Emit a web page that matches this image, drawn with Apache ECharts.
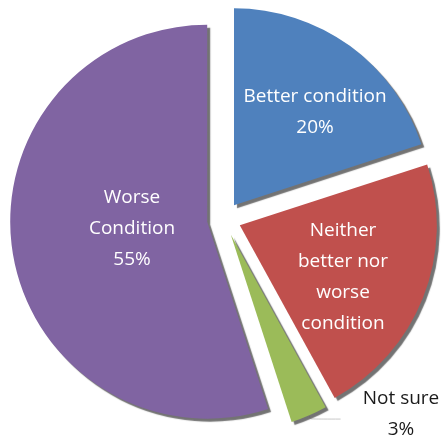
<!DOCTYPE html>
<html>
<head>
<meta charset="utf-8">
<script src="https://cdn.jsdelivr.net/npm/echarts@6/dist/echarts.min.js"></script>
<style>
  html, body { margin: 0; padding: 0; background: #ffffff; }
  #chart { width: 442px; height: 440px; }
</style>
</head>
<body>
<div id="chart"></div>
<script>
// Survey answers, clockwise from 12 o'clock
const categories = ['Better condition', 'Neither better nor worse condition', 'Not sure', 'Worse Condition'];
const values = [20, 22, 3, 55];
// How each slice's label is wrapped, and whether it shows its share
const labelLines = [
  ['Better condition'],
  ['Neither', 'better nor', 'worse', 'condition'],
  ['Not sure'],
  ['Worse', 'Condition']
];
const showPercent = [true, false, true, true];

const colors = ['#4F81BD', '#C0504D', '#9BBB59', '#8064A2'];
// Where the centre of each label block sits on the canvas
const labelCentres = [[315, 112], [343, 277], [401, 414], [132, 229]];

const START_ANGLE = 90;
const EXPLODE = 17;

// Pulled-out slices move their labels along the slice's middle direction;
// the layout callback reports rects before that move, so account for it.
const total = values.reduce((a, b) => a + b, 0);
const explodeShift = [];
let acc = 0;
values.forEach((v) => {
  const midDeg = START_ANGLE - (acc + v / 2) / total * 360;
  const rad = midDeg * Math.PI / 180;
  explodeShift.push([EXPLODE * Math.cos(rad), -EXPLODE * Math.sin(rad)]);
  acc += v;
});

const data = categories.map((name, i) => {
  const outside = i === 2;
  return {
    name: name,
    value: values[i],
    selected: true,
    itemStyle: { color: colors[i] },
    label: outside
      ? { position: 'outside', color: '#1a1a1a' }
      : { position: 'inside' },
    labelLine: outside
      ? { show: true, length: 4, length2: 30, smooth: 0.3,
          lineStyle: { color: '#c8c8c8', width: 1 } }
      : { show: false }
  };
});

const chart = echarts.init(document.getElementById('chart'), null, { renderer: 'canvas' });
chart.setOption({
  animation: false,
  backgroundColor: '#ffffff',
  series: [{
    type: 'pie',
    center: [224, 219],
    radius: [0, 197],
    startAngle: START_ANGLE,
    clockwise: true,
    selectedMode: 'multiple',
    selectedOffset: EXPLODE,
    avoidLabelOverlap: false,
    emphasis: { disabled: true },
    itemStyle: {
      shadowColor: 'rgba(90,90,90,0.85)',
      shadowBlur: 1,
      shadowOffsetX: 3,
      shadowOffsetY: 3
    },
    label: {
      show: true,
      color: '#ffffff',
      fontFamily: '"Open Sans", sans-serif',
      fontWeight: 'normal',
      fontSize: 19,
      lineHeight: 31,
      align: 'center',
      rich: {
        // lines of the outside label, centred on one another
        c: { width: 84, align: 'center', fontSize: 19, lineHeight: 31,
             fontFamily: '"Open Sans", sans-serif', color: '#1a1a1a' }
      },
      formatter: (p) => {
        const i = p.dataIndex;
        const lines = labelLines[i].slice();
        if (showPercent[i]) lines.push(values[i] + '%');
        if (i === 2) return lines.map((s) => '{c|' + s + '}').join('\n');
        return lines.join('\n');
      }
    },
    labelLayout: (params) => {
      const i = params.dataIndex;
      const c = labelCentres[i];
      const r = params.labelRect;
      return {
        dx: c[0] - (r.x + r.width / 2) - explodeShift[i][0],
        dy: c[1] - (r.y + r.height / 2) - explodeShift[i][1]
      };
    },
    data: data
  }]
});
</script>
</body>
</html>
